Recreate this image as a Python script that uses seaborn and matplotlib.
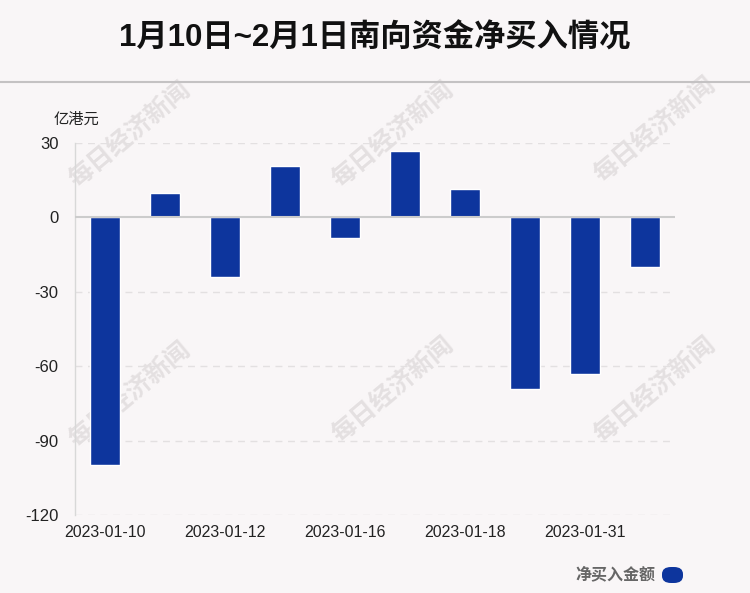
import matplotlib
matplotlib.use("Agg")
import matplotlib.pyplot as plt
import seaborn as sns
import pandas as pd
from matplotlib.lines import Line2D
from matplotlib.patches import FancyBboxPatch

dates = ["2023-01-10", "2023-01-11", "2023-01-12", "2023-01-13", "2023-01-16",
         "2023-01-17", "2023-01-18", "2023-01-19", "2023-01-31", "2023-02-01"]
net_buy = [-100.0, 9.7, -24.1, 20.7, -8.5, 26.7, 11.3, -69.2, -63.3, -20.2]
y_ticks = [30, 0, -30, -60, -90, -120]

title = "1月10日~2月1日南向资金净买入情况"
unit = "亿港元"
series_name = "净买入金额"
watermark = "每日经济新闻"

bg = "#f9f6f7"
bar_color = "#0d359d"

sns.set_theme(style="white")
plt.rcParams["font.family"] = ["Liberation Sans", "Noto Sans CJK SC", "DejaVu Sans"]

df = pd.DataFrame({"date": dates, "value": net_buy})

fig = plt.figure(figsize=(7.5, 5.93), dpi=100, facecolor=bg)
W, H = 750, 593
ax = fig.add_axes([75 / W, 1 - 515 / H, 600 / W, 372 / H])
ax.patch.set_alpha(0)

sns.barplot(data=df, x="date", y="value", color=bar_color, width=0.5,
            saturation=1, ax=ax, zorder=3)

ax.set_xlim(-0.5, len(dates) - 0.5)
ax.set_ylim(-120, 30)
ax.set_yticks(y_ticks)
ax.set_yticklabels([str(t) for t in y_ticks], fontsize=12, color="#222222")
ax.set_xticks(range(len(dates)))
ax.set_xticklabels([d if i % 2 == 0 else "" for i, d in enumerate(dates)],
                   fontsize=11.5, color="#222222")
ax.tick_params(axis="y", length=0, pad=12)
ax.tick_params(axis="x", length=0, pad=7)
ax.set_xlabel("")
ax.set_ylabel("")

for t in y_ticks:
    if t != 0:
        ax.axhline(t, color="#e3e0e1", lw=1, ls=(0, (5, 4)), zorder=1)
ax.axhline(0, color="#cccccc", lw=1.5, zorder=4)

for s in ["top", "right", "bottom"]:
    ax.spines[s].set_visible(False)
ax.spines["left"].set_color("#d8d8d8")
ax.spines["left"].set_linewidth(1)

# title and separator
fig.text(0.5, 1 - 38 / H, title, ha="center", va="center", fontsize=22.5,
         fontweight="bold", color="#111111")
fig.add_artist(Line2D([0, 1], [1 - 82 / H, 1 - 82 / H], color="#c4c2c3", lw=1.5))

fig.text(54 / W, 1 - 120 / H, unit, ha="left", va="center", fontsize=11, color="#222222")

# watermarks, behind the bars
for cx, cy in [(130, 135), (393, 135), (655, 130), (130, 395), (393, 390), (655, 390)]:
    fig.text(cx / W, 1 - cy / H, watermark, ha="center", va="center", rotation=40,
             fontsize=18, fontweight="bold", color="#e4e0e1", zorder=-1)

# legend
fig.text(655 / W, 1 - 574 / H, series_name, ha="right", va="center", fontsize=11.5,
         fontweight="bold", color="#666666")
fig.patches.append(FancyBboxPatch((662 / W, 1 - 583 / H), 21 / W, 16 / H,
                                  boxstyle="round,pad=0,rounding_size=0.012",
                                  transform=fig.transFigure, facecolor=bar_color,
                                  edgecolor="none"))

fig.savefig("out.png", dpi=100, facecolor=bg)
